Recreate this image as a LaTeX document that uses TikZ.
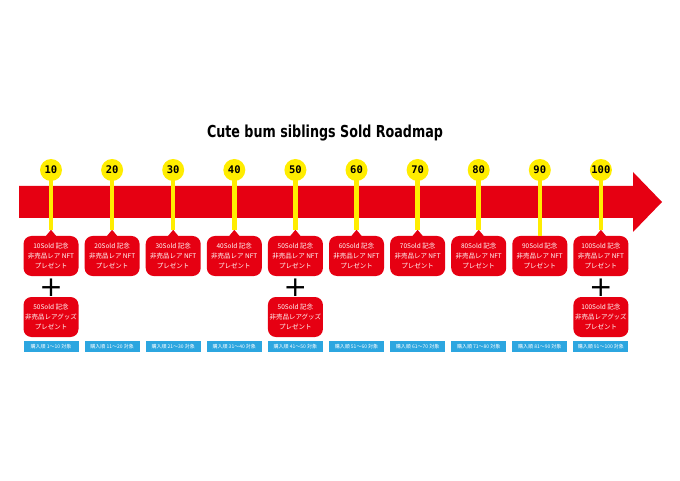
\documentclass[tikz,border=0pt]{standalone}
\usepackage{fontspec}
\setmainfont{DejaVu Sans}
\newfontfamily\jpfont{Noto Sans CJK JP}
\newfontfamily\numfont{DejaVu Sans Mono}
\definecolor{rmred}{HTML}{E60012}
\definecolor{rmyellow}{HTML}{FFED00}
\definecolor{rmblue}{HTML}{2CA6E0}
\tikzset{
  circ/.style={circle, fill=rmyellow, minimum size=22pt, inner sep=0pt,
    font=\numfont\bfseries\fontsize{10.5}{11}\selectfont},
  rbox/.style={fill=rmred, rounded corners=8pt, minimum width=55pt, minimum height=40pt,
    inner sep=0pt, text=white, align=center, font=\jpfont\fontsize{6.5}{10}\selectfont},
  bbox/.style={fill=rmblue, minimum width=55pt, minimum height=11pt, inner sep=0pt,
    text=white, font=\jpfont\fontsize{5}{5}\selectfont},
  stem/.style={draw=rmyellow, line width=4.5pt},
  plus/.style={font=\fontsize{28}{28}\selectfont, inner sep=0pt},
}
\begin{document}
\begin{tikzpicture}[x=1pt,y=-1pt]
\useasboundingbox[fill=white] (0,0) rectangle (680,481);
% title
\node[font=\bfseries\fontsize{16.5}{18}\selectfont] (title) at (325,133)
  {\scalebox{0.77}[1]{Cute bum siblings Sold Roadmap}};
% main arrow
\fill[rmred] (19,186) -- (633,186) -- (633,172) -- (662,202) -- (633,232)
  -- (633,218) -- (19,218) -- cycle;
\foreach \i/\n in {1/10,2/20,3/30,4/40,5/50,6/60,7/70,8/80,9/90,10/100}{
  \pgfmathsetmacro{\xx}{51+(\i-1)*61.1}
  \pgfmathtruncatemacro{\lo}{\n-9}
  \coordinate (p\i) at (\xx,170);
  \node[rbox] (b\i) at (\xx,256) {\n Sold 記念\\非売品レア NFT\\プレゼント};
  \ifnum\i=9\relax
    \coordinate (t\i) at (b\i.north);
  \else
    \fill[rmred] ([xshift=-5pt]b\i.north) -- ([yshift=6pt]b\i.north) -- ([xshift=5pt]b\i.north) -- cycle;
    \coordinate (t\i) at ([yshift=6pt]b\i.north);
  \fi
  \draw[stem] (p\i) -- (t\i);
  \node[circ] (c\i) at (p\i) {\n};
  \node[bbox] (l\i) at (\xx,346.5) {購入順 \lo～\n\ 対象};
}
\foreach \i/\n in {1/50,5/50,10/100}{
  \node[plus] (plus\i) at ([yshift=-12pt]b\i.south) {+};
  \node[rbox] (g\i) at ([yshift=-61pt]b\i.center) {\n Sold 記念\\非売品レアグッズ\\プレゼント};
}
\end{tikzpicture}
\end{document}
